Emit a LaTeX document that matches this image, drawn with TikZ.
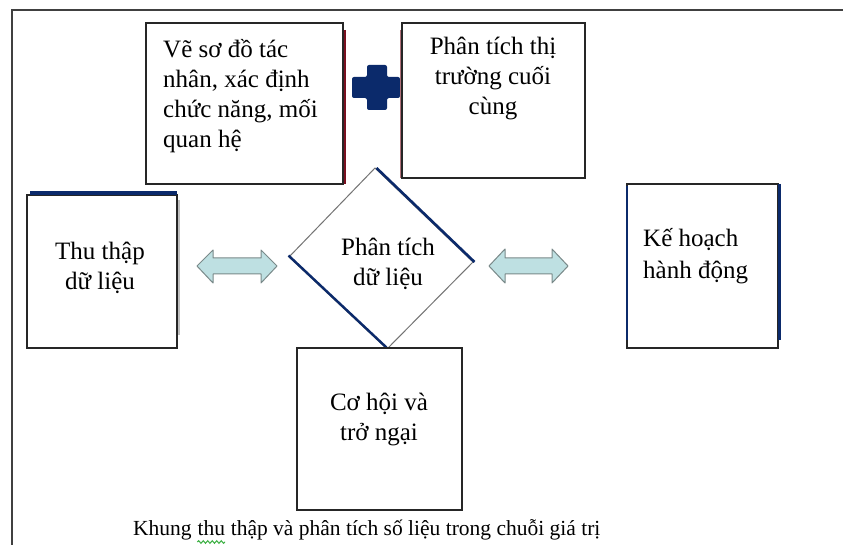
\documentclass[tikz,border=0pt]{standalone}
\usepackage{fontspec}
\setmainfont{Liberation Serif}
\usetikzlibrary{decorations.pathmorphing}
\definecolor{navy}{HTML}{0B2A6B}
\definecolor{framegray}{HTML}{404040}
\definecolor{arrowfill}{HTML}{BEE0E2}
\definecolor{arrowline}{HTML}{7A8A8A}
\definecolor{shadowred}{HTML}{7A1020}
\definecolor{squiggle}{HTML}{3CB043}
\tikzset{
  boxframe/.style={draw=black!85, line width=1.3pt, fill=white},
  boxtext/.style={inner sep=0pt, font=\fontsize{25}{30}\selectfont},
  captext/.style={inner sep=0pt, font=\fontsize{21.5}{26}\selectfont},
  fatarrow/.style={draw=arrowline, line width=1pt, fill=arrowfill, line join=round},
}
\begin{document}
\begin{tikzpicture}[x=1pt,y=-1pt]
\useasboundingbox (0,0) rectangle (843,545);
\fill[white] (0,0) rectangle (843,545);

% outer frame (top and left edges)
\draw[framegray, line width=2pt] (12,545) -- (12,10) -- (843,10);

% box: actors map
\draw[shadowred, line width=1.2pt] (345,30) -- (345,184);
\draw[boxframe] (146,23) rectangle (343,184);
\node[boxtext, align=left, anchor=west] (actors) at (163,96)
  {Vẽ sơ đồ tác\\nhân, xác định\\chức năng, mối\\quan hệ};

% plus sign
\fill[navy, rounded corners=2pt]
  (367,65) -- (387,65) -- (387,77) -- (400,77) -- (400,98) -- (387,98)
  -- (387,110) -- (367,110) -- (367,98) -- (352,98) -- (352,77) -- (367,77) -- cycle;

% box: end market
\draw[shadowred!60, line width=0.8pt] (400,30) -- (400,178);
\draw[boxframe] (402,23) rectangle (585,178);
\node[boxtext, align=center] (market) at (493,79)
  {Phân tích thị\\trường cuối\\cùng};

% box: data collection
\draw[black!25, line width=1.5pt] (179,200) -- (179,335);
\draw[boxframe] (27,195) rectangle (177,348);
\draw[navy, line width=3.5pt] (30,193) -- (177,193);
\node[boxtext, align=center] (collect) at (100,268) {Thu thập\\dữ liệu};

% diamond: data analysis
\coordinate (dtop) at (375,168);
\coordinate (dleft) at (289,257);
\coordinate (dright) at (473,262);
\coordinate (dbot) at (387,349);
\fill[white] (dtop) -- (dright) -- (dbot) -- (dleft) -- cycle;
\draw[black!55, line width=1pt] (dtop) -- (dright) -- (dbot) -- (dleft) -- cycle;
\draw[navy, line width=2.6pt] ([xshift=1.5]dtop) -- ([xshift=1.5]dright);
\draw[navy, line width=2.4pt] ([xshift=-0.5,yshift=1.5]dleft) -- ([xshift=-0.5,yshift=1.5]dbot);
\node[boxtext, align=center] (analysis) at (388,264) {Phân tích\\dữ liệu};

% box: action plan
\draw[boxframe] (627,184) rectangle (778,348);
\draw[navy, line width=1.2pt] (627,186) -- (627,340);
\draw[navy, line width=3.2pt] (779.5,184) -- (779.5,340);
\node[boxtext, align=left, anchor=west, font=\fontsize{25}{31.5}\selectfont]
  (plan) at (643,256) {Kế hoạch\\hành động};

% box: opportunities and constraints
\draw[boxframe] (297,348) rectangle (462,510);
\node[boxtext, align=center] (chances) at (379,419) {Cơ hội và\\trở ngại};

% two-headed arrows between the stages
\draw[fatarrow] (197,266) -- (213,250) -- (213,258) -- (261,258) -- (261,250)
  -- (277,266) -- (261,283) -- (261,274) -- (213,274) -- (213,283) -- cycle;
\draw[fatarrow] (489,266) -- (505,249) -- (505,258) -- (552,258) -- (552,249)
  -- (568,266) -- (552,283) -- (552,274) -- (505,274) -- (505,283) -- cycle;

% caption
\node[captext, anchor=base west] (capa) at (133,535) {Khung};
\node[captext, anchor=base west] (capb) at ([xshift=5.4pt]capa.base east) {thu};
\node[captext, anchor=base west] (capc) at ([xshift=5.4pt]capb.base east)
  {thập và phân tích số liệu trong chuỗi giá trị};
\draw[squiggle, line width=1pt, decorate,
  decoration={snake, amplitude=1.3pt, segment length=4.5pt}]
  ([yshift=-7pt]capb.base west) -- ([yshift=-7pt]capb.base east);
\end{tikzpicture}
\end{document}
